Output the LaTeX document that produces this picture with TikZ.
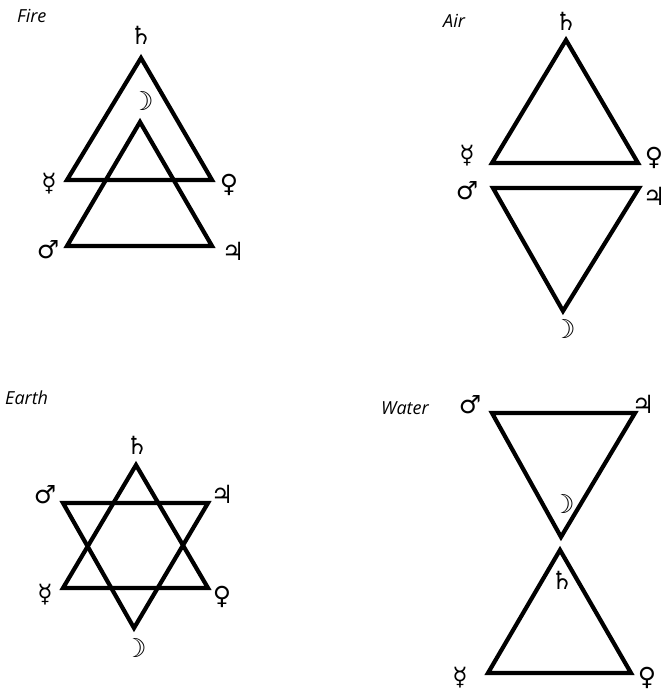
\documentclass[tikz,border=0pt]{standalone}
\usepackage{fontspec}
\setmainfont{Open Sans}
\newfontfamily\symfont{DejaVu Sans}
\begin{document}
\begin{tikzpicture}[x=1pt,y=-1pt,
  tri/.style={line width=4.2pt,line join=miter,miter limit=10},
  sym/.style={font=\symfont\fontsize{25}{25}\selectfont,inner sep=0pt},
  moon/.style={font=\symfont\bfseries\fontsize{26}{26}\selectfont,inner sep=0pt},
  ttl/.style={font=\itshape\fontsize{18}{18}\selectfont,inner sep=0pt,anchor=west}]
\useasboundingbox (0,0) rectangle (664,691);
% ---------- Fire ----------
\node[ttl] (tfire) at (17,16) {Fire};
\coordinate (f1a) at (141,58);  \coordinate (f1l) at (67,180); \coordinate (f1r) at (212,180);
\coordinate (f2a) at (140,122); \coordinate (f2l) at (67,246); \coordinate (f2r) at (212,246);
\draw[tri] (f1a) -- (f1l) -- (f1r) -- cycle;
\draw[tri] (f2a) -- (f2l) -- (f2r) -- cycle;
\node[sym] (fsat) at (141,35) {♄};
\node[moon] (fmoon) at (142,101) {☽};
\node[sym] (fmer) at (49,184) {☿};
\node[sym] (fven) at (229,185) {♀};
\node[sym] (fmar) at (48,250) {♂};
\node[sym] (fjup) at (233,251) {♃};
% ---------- Air ----------
\node[ttl] (tair) at (443,21) {Air};
\coordinate (a1a) at (566,40);  \coordinate (a1l) at (492,163); \coordinate (a1r) at (638,163);
\coordinate (a2a) at (563,311); \coordinate (a2l) at (493,188); \coordinate (a2r) at (639,188);
\draw[tri] (a1a) -- (a1l) -- (a1r) -- cycle;
\draw[tri] (a2a) -- (a2l) -- (a2r) -- cycle;
\node[sym] (asat) at (566,21) {♄};
\node[sym] (amer) at (467,156) {☿};
\node[sym] (aven) at (654,158) {♀};
\node[sym] (amar) at (467,191) {♂};
\node[sym] (ajup) at (654,196) {♃};
\node[moon] (amoon) at (564,329) {☽};
% ---------- Earth ----------
\node[ttl] (tearth) at (5,398) {Earth};
\coordinate (e1a) at (136,465); \coordinate (e1l) at (63,588); \coordinate (e1r) at (208,588);
\coordinate (e2a) at (134,628); \coordinate (e2l) at (63,503); \coordinate (e2r) at (208,503);
\draw[tri] (e1a) -- (e1l) -- (e1r) -- cycle;
\draw[tri] (e2a) -- (e2l) -- (e2r) -- cycle;
\node[sym] (esat) at (137,445) {♄};
\node[sym] (emar) at (45,495) {♂};
\node[sym] (ejup) at (222,494) {♃};
\node[sym] (emer) at (45,595) {☿};
\node[sym] (even) at (222,597) {♀};
\node[moon] (emoon) at (135,648) {☽};
% ---------- Water ----------
\node[ttl] (twater) at (381,408) {Water};
\coordinate (w1a) at (561,537); \coordinate (w1l) at (492,413); \coordinate (w1r) at (635,413);
\coordinate (w2a) at (560,550); \coordinate (w2l) at (488,673); \coordinate (w2r) at (631,673);
\draw[tri] (w1a) -- (w1l) -- (w1r) -- cycle;
\draw[tri] (w2a) -- (w2l) -- (w2r) -- cycle;
\node[sym] (wmar) at (470,405) {♂};
\node[sym] (wjup) at (643,404) {♃};
\node[moon] (wmoon) at (563,504) {☽};
\node[sym] (wsat) at (562,580) {♄};
\node[sym] (wmer) at (460,678) {☿};
\node[sym] (wven) at (647,678) {♀};
\end{tikzpicture}
\end{document}
